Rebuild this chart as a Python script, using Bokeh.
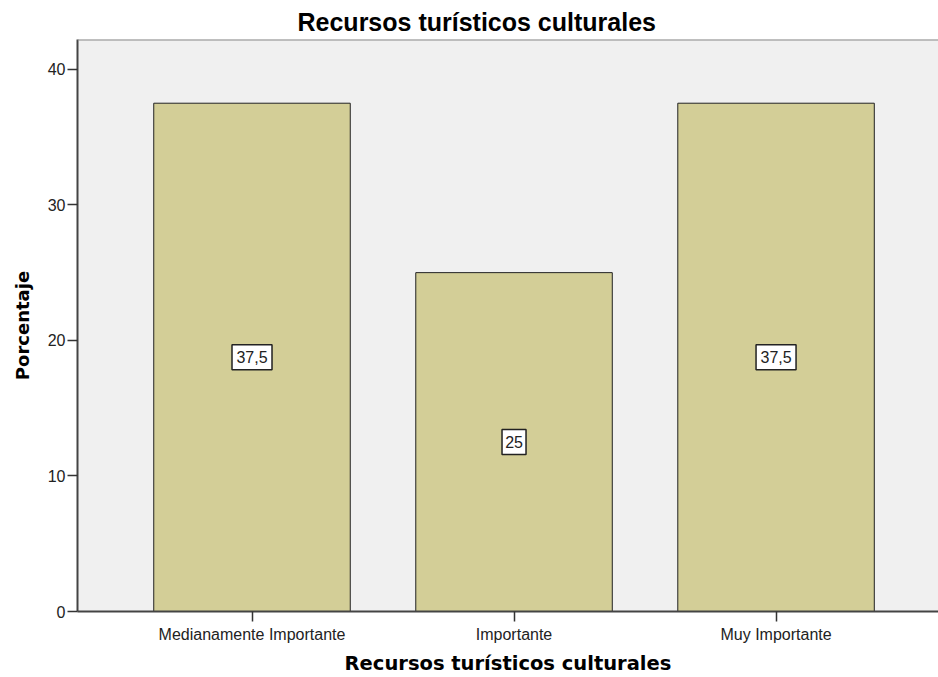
from bokeh.plotting import figure
from bokeh.models import ColumnDataSource, Span, FixedTicker, Range1d
from bokeh.core.properties import value
from bokeh.embed import file_html
from bokeh.resources import INLINE

categories = ["Medianamente Importante", "Importante", "Muy Importante"]
values = [37.5, 25, 37.5]
value_labels = ["37,5", "25", "37,5"]
y_ticks = [0, 10, 20, 30, 40]

xs = list(range(1, len(categories) + 1))
src = ColumnDataSource(dict(
    x=xs,
    top=values,
    ymid=[v / 2 for v in values],
    lab=value_labels,
    boxw=[len(t) * 8 + 8 for t in value_labels],
))

y_end = 42.2
p = figure(width=938, height=677, output_backend="svg", toolbar_location=None,
           x_range=Range1d(0.334, 3.62), y_range=Range1d(0, y_end),
           min_border_left=77, min_border_right=0, min_border_top=39, min_border_bottom=64)

p.title.text = "Recursos turísticos culturales"
p.title.text_font = "Liberation Sans"
p.title.text_font_size = "25px"
p.title.text_font_style = "bold"
p.title.text_color = "black"
p.title.align = "left"
p.title.offset = 220
p.title.standoff = 8

p.background_fill_color = "#F0F0F0"
p.border_fill_color = "white"
p.outline_line_color = None
p.xgrid.visible = False
p.ygrid.visible = False

p.vbar(x="x", top="top", bottom=0, width=0.75, source=src,
       fill_color="#D3CE97", line_color="#222222", line_width=1)

p.rect(x="x", y="ymid", width="boxw", height=25, width_units="screen", height_units="screen",
       source=src, fill_color="white", line_color="#222222", line_width=1.5)
p.text(x="x", y="ymid", text="lab", source=src, text_align="center", text_baseline="middle",
       text_font=value("Liberation Sans"), text_font_size="16px", text_color="#222222")

p.add_layout(Span(location=y_end, dimension="width", line_color="#888888", line_width=2))

for ax in (p.xaxis[0], p.yaxis[0]):
    ax.axis_line_color = "#444444"
    ax.axis_line_width = 2
    ax.major_tick_line_color = "#333333"
    ax.major_tick_line_width = 1.5
    ax.major_tick_out = 10
    ax.major_tick_in = 0
    ax.minor_tick_line_color = None
    ax.major_label_text_font = "Liberation Sans"
    ax.major_label_text_font_size = "16px"
    ax.major_label_text_color = "#222222"
    ax.axis_label_text_font = "DejaVu Sans"
    ax.axis_label_text_font_style = "bold"
    ax.axis_label_text_color = "black"

p.xaxis.ticker = FixedTicker(ticks=xs)
p.xaxis.major_label_overrides = {i: c for i, c in zip(xs, categories)}
p.xaxis.major_label_standoff = 4
p.xaxis.axis_label = "Recursos turísticos culturales"
p.xaxis.axis_label_text_font_size = "19.5px"
p.xaxis.axis_label_standoff = 6

p.yaxis.ticker = FixedTicker(ticks=y_ticks)
p.yaxis.major_label_standoff = 2
p.yaxis.axis_label = "Porcentaje"
p.yaxis.axis_label_text_font_size = "18px"
p.yaxis.axis_label_standoff = 12

open("out.html", "w").write(file_html(p, INLINE))
